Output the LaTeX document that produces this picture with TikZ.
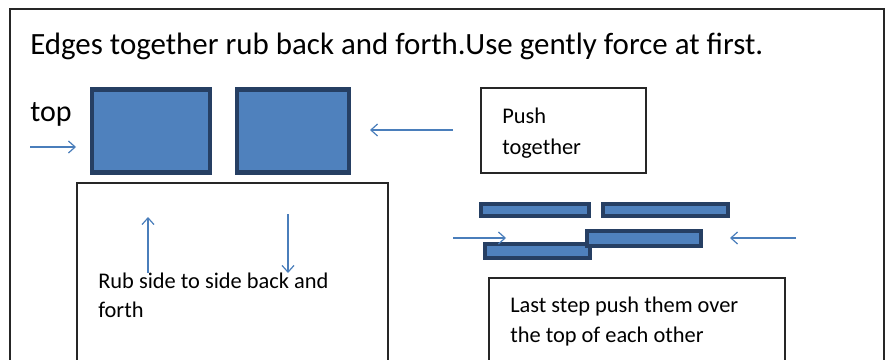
\documentclass[tikz,border=0pt]{standalone}
\usepackage{fontspec}
\setmainfont{Carlito}
\usetikzlibrary{arrows.meta}
\definecolor{bfill}{HTML}{4F81BD}
\definecolor{bline}{HTML}{263F63}
\definecolor{arr}{HTML}{4A7EBB}
\def\upx{0.75pt}
\tikzset{
  frame/.style={draw=black!85, line width=1.1pt},
  tbox/.style={draw=black!85, line width=1pt},
  block/.style={draw=bline, fill=bfill, line width=3.2pt, inner sep=0pt},
  bar/.style={draw=bline, fill=bfill, line width=3pt, inner sep=0pt},
  arrline/.style={draw=arr, line width=0.9pt, -{Straight Barb[length=5pt,width=9pt]}},
  lbl/.style={anchor=base west, inner sep=0pt, font=\fontsize{16.8}{19}\selectfont},
}
\begin{document}
\begin{tikzpicture}[x=0.75pt,y=-0.75pt]
\useasboundingbox (0,0) rectangle (893,360);
% outer frame (bottom edge outside picture)
\draw[frame] (10,372) -- (10,9) -- (884,9) -- (884,372);
\node[anchor=base west, inner sep=0pt, font=\fontsize{23.2}{26}\selectfont] (title) at (30,55) {Edges together rub back and forth.Use gently force at first.};
\node[anchor=base west, inner sep=0pt, font=\fontsize{22.5}{26}\selectfont] (top) at (30,122) {top};
% squares
\node[block, minimum width=118*\upx, minimum height=83*\upx] (sq1) at (151,131) {};
\node[block, minimum width=112*\upx, minimum height=83*\upx] (sq2) at (293,131) {};
% arrows near squares
\coordinate (a1s) at (30,147);
\coordinate (a1e) at (76,147);
\draw[arrline] (a1s) -- (a1e);
\coordinate (a2s) at (453,130);
\coordinate (a2e) at (370,130);
\draw[arrline] (a2s) -- (a2e);
% push together box
\node[tbox, minimum width=165*\upx, minimum height=85*\upx, inner sep=0pt] (push) at (563.5,130.5) {};
\node[lbl] (pusht) at (502,123) {Push};
\node[lbl] (pusht2) at (502,155) {together};
% rub box
\draw[tbox] (77,372) -- (77,183) -- (388,183) -- (388,372);
\node[lbl] (rubt) at (98,288) {Rub side to side back and};
\node[lbl] (rubt2) at (98,317) {forth};
\coordinate (u1) at (148,273);
\coordinate (u2) at (148,217);
\draw[arrline] (u1) -- (u2);
\coordinate (d1) at (288,214);
\coordinate (d2) at (288,273);
\draw[arrline] (d1) -- (d2);
% bars
\node[bar, minimum width=108*\upx, minimum height=12*\upx] (b1) at (534.5,209.5) {};
\node[bar, minimum width=125*\upx, minimum height=12*\upx] (b2) at (665.5,209.5) {};
\node[bar, minimum width=105*\upx, minimum height=14*\upx] (b4) at (537,251) {};
\node[bar, minimum width=114*\upx, minimum height=15*\upx] (b3) at (644,238.5) {};
\coordinate (r1s) at (453,238);
\coordinate (r1e) at (506,238);
\draw[arrline] (r1s) -- (r1e);
\coordinate (r2s) at (796,238);
\coordinate (r2e) at (730,238);
\draw[arrline] (r2s) -- (r2e);
% last step box
\draw[tbox] (489,372) -- (489,278) -- (785,278) -- (785,372);
\node[lbl] (last1) at (510,312) {Last step push them over};
\node[lbl] (last2) at (510,342) {the top of each other};
\end{tikzpicture}
\end{document}
